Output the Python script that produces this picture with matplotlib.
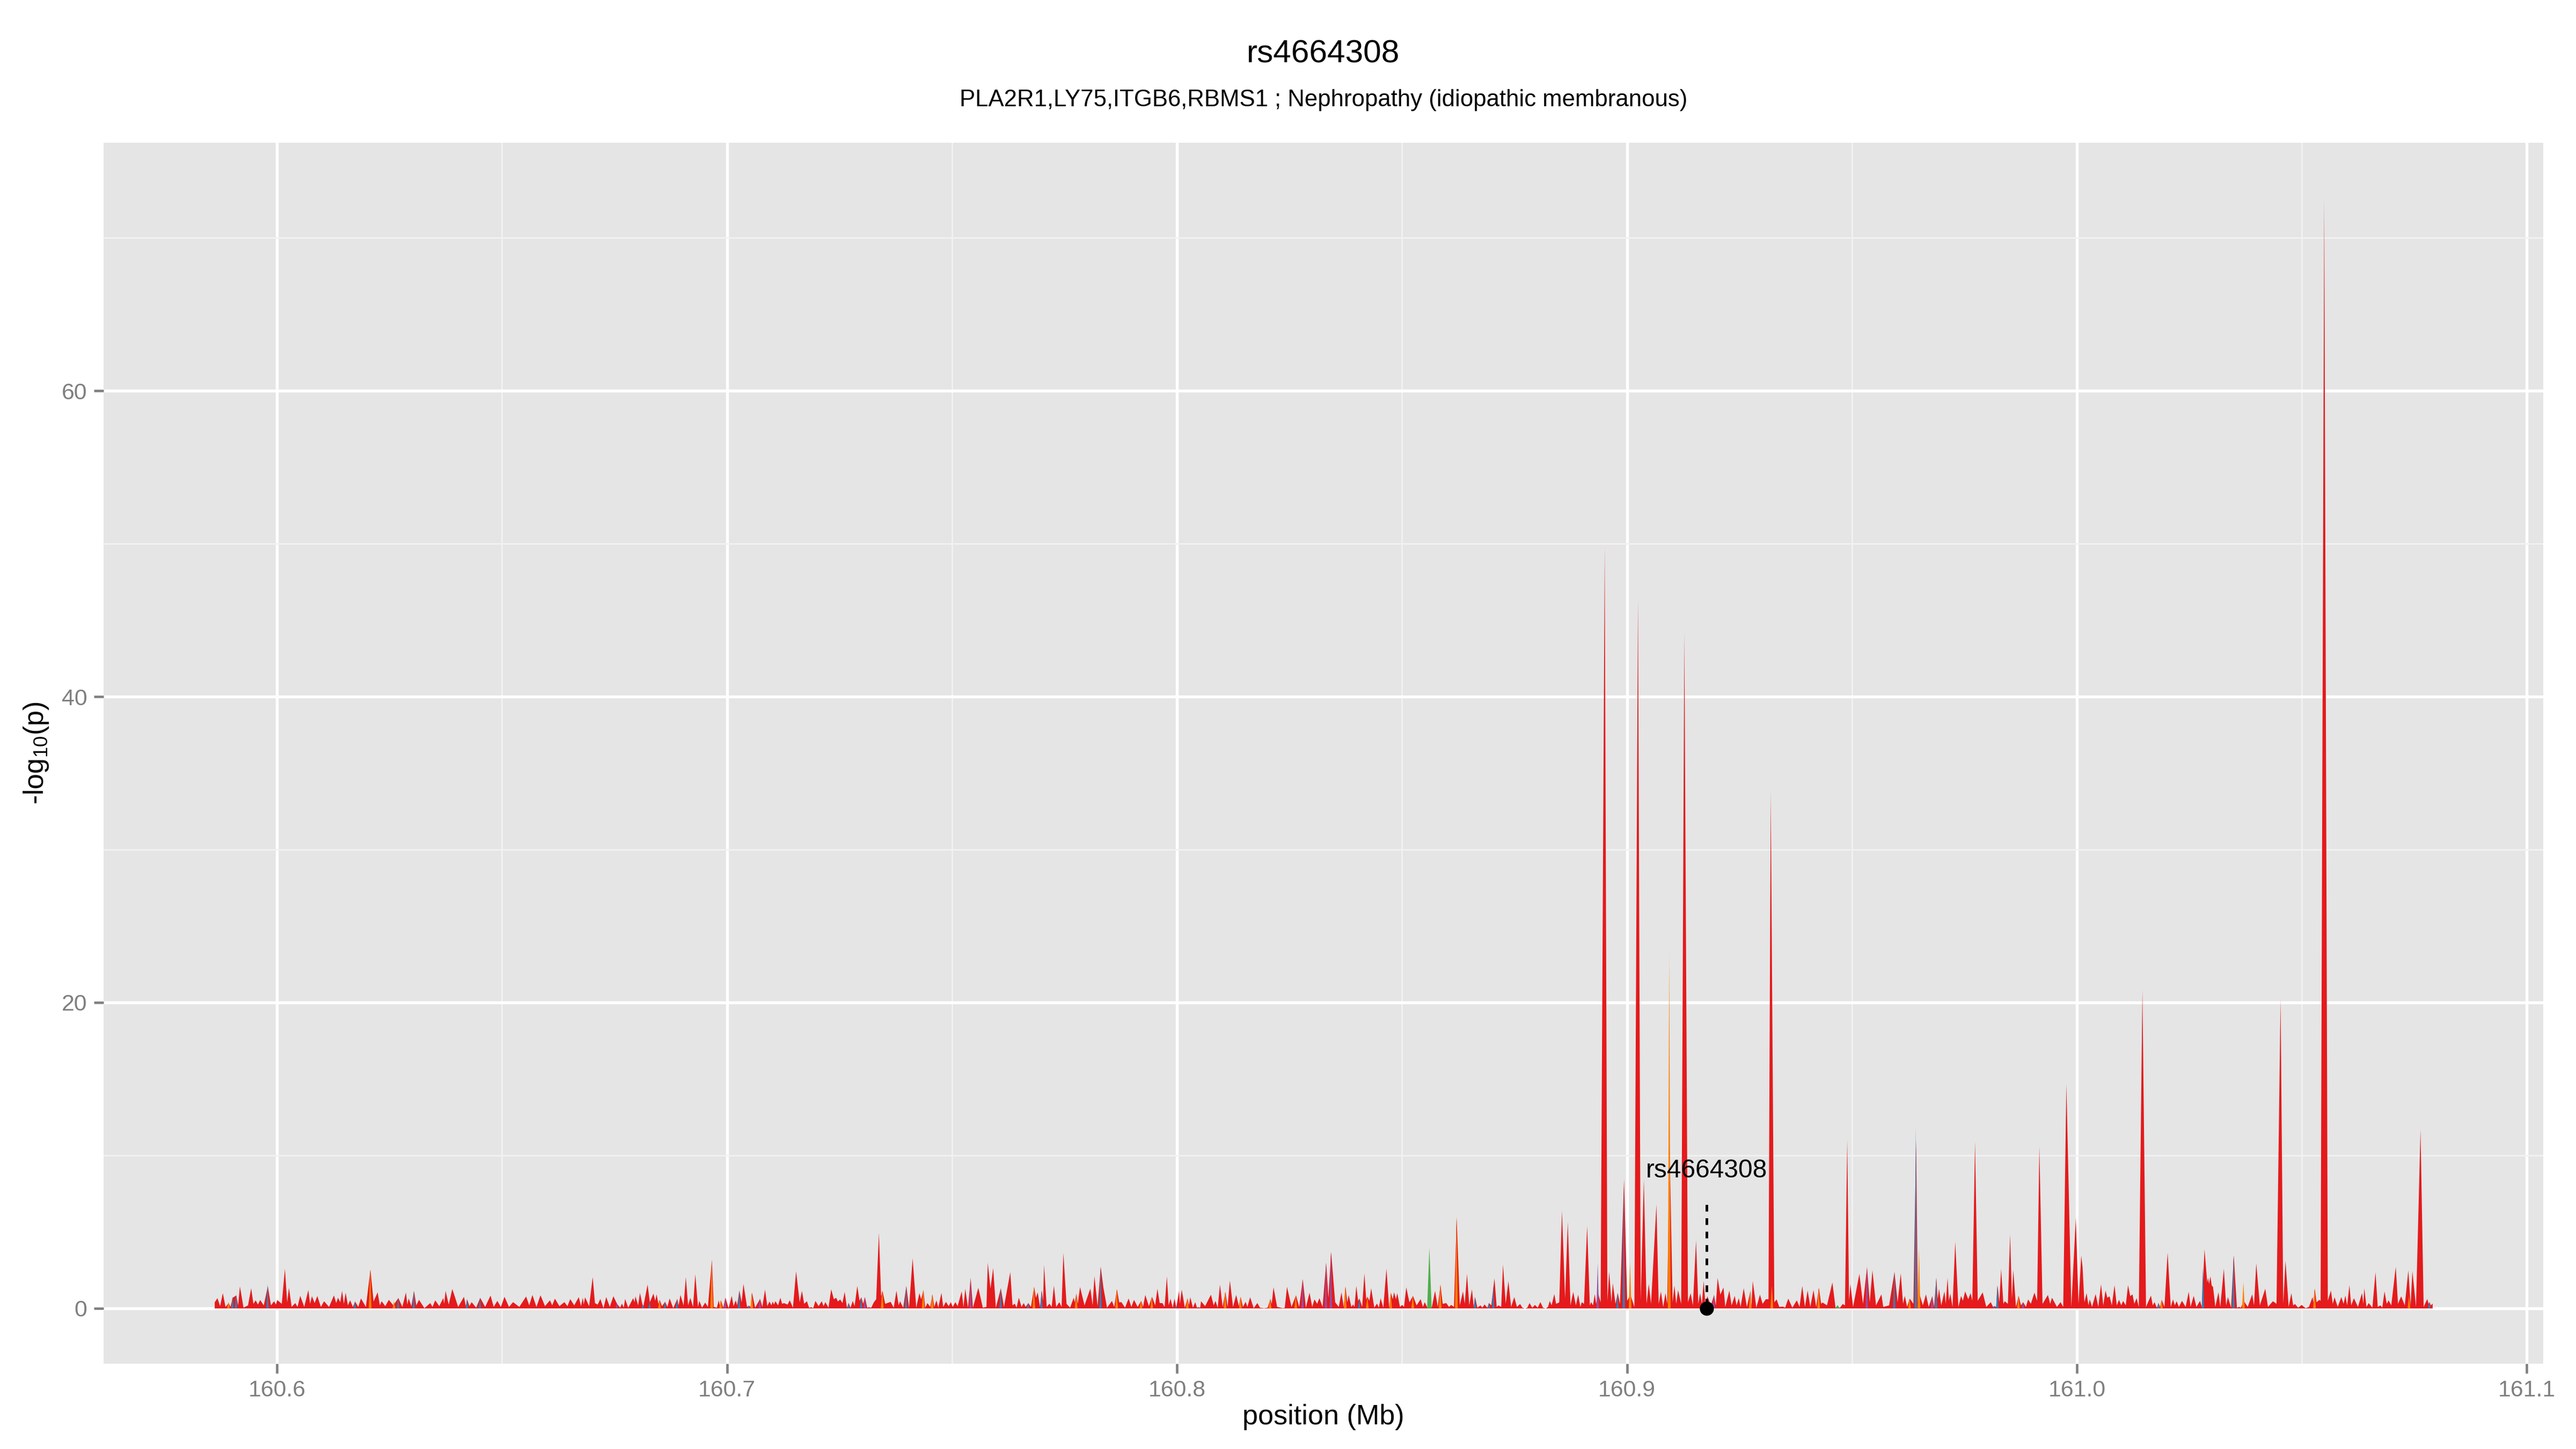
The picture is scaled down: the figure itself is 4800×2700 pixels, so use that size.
import matplotlib
matplotlib.use("Agg")
import matplotlib.pyplot as plt

plt.rcParams['font.family'] = ['Liberation Sans', 'DejaVu Sans']
plt.rcParams['mathtext.fontset'] = 'custom'
plt.rcParams['mathtext.rm'] = 'Liberation Sans'
plt.rcParams['mathtext.default'] = 'regular'

# ---------------- data ----------------
title = "rs4664308"
subtitle = "PLA2R1,LY75,ITGB6,RBMS1 ; Nephropathy (idiopathic membranous)"
lead_snp = "rs4664308"
lead_pos = 160.9177
lead_val = 0.0

# red series (main association trace), position in Mb and -log10(p)
red_pos = [
 160.5861,160.5867,160.5873,160.5879,160.5885,160.5892,160.5896,160.5901,160.5909,160.5913,
 160.5917,160.5925,160.5935,160.5942,160.5947,160.5952,160.5957,160.5962,160.5970,160.5979,
 160.5986,160.5993,160.5997,160.6000,160.6010,160.6017,160.6022,160.6026,160.6032,160.6040,
 160.6045,160.6051,160.6060,160.6069,160.6073,160.6077,160.6083,160.6089,160.6097,160.6104,
 160.6115,160.6126,160.6131,160.6135,160.6140,160.6144,160.6148,160.6152,160.6157,160.6162,
 160.6168,160.6173,160.6180,160.6186,160.6197,160.6207,160.6214,160.6223,160.6228,160.6232,
 160.6240,160.6248,160.6258,160.6269,160.6278,160.6286,160.6289,160.6292,160.6298,160.6304,
 160.6309,160.6315,160.6327,160.6340,160.6345,160.6351,160.6360,160.6369,160.6371,160.6374,
 160.6381,160.6389,160.6402,160.6415,160.6419,160.6422,160.6427,160.6432,160.6442,160.6451,
 160.6462,160.6474,160.6481,160.6489,160.6497,160.6505,160.6515,160.6524,160.6538,160.6553,
 160.6560,160.6567,160.6576,160.6585,160.6595,160.6606,160.6611,160.6617,160.6627,160.6638,
 160.6645,160.6651,160.6660,160.6670,
 160.6675,160.6679,160.6681,160.6684,160.6693,160.6701,160.6706,160.6712,160.6718,160.6725,
 160.6731,160.6739,160.6747,160.6755,160.6762,160.6766,160.6770,160.6773,160.6780,160.6791,
 160.6794,160.6796,160.6802,160.6806,160.6813,160.6823,160.6828,160.6836,160.6840,160.6843,
 160.6847,160.6850,160.6855,160.6862,160.6867,160.6872,160.6880,160.6889,160.6892,160.6896,
 160.6903,160.6908,160.6913,160.6918,160.6924,160.6929,160.6935,160.6938,160.6944,160.6951,
 160.6957,160.6966,160.6970,160.6977,160.6981,160.6984,160.6986,160.6991,160.6996,160.7003,
 160.7010,160.7014,160.7019,160.7022,160.7027,160.7032,160.7036,160.7044,160.7048,160.7052,
 160.7055,160.7062,160.7073,160.7078,160.7084,160.7089,160.7094,160.7098,160.7101,160.7104,
 160.7107,160.7113,160.7118,160.7122,160.7126,160.7134,160.7139,160.7146,160.7153,160.7161,
 160.7166,160.7171,160.7177,160.7182,160.7187,160.7191,160.7196,160.7203,160.7210,160.7214,
 160.7218,160.7225,160.7231,160.7237,160.7242,160.7246,160.7251,160.7256,160.7261,160.7266,
 160.7270,160.7274,160.7279,160.7283,160.7289,160.7294,160.7298,160.7302,160.7306,160.7311,
 160.7315,160.7320,160.7326,160.7331,160.7337,160.7342,160.7345,160.7351,160.7363,160.7370,
 160.7376,160.7381,160.7384,160.7391,160.7398,160.7404,160.7412,160.7420,160.7427,160.7431,
 160.7436,160.7440,160.7445,160.7451,160.7456,160.7460,160.7465,160.7469,160.7476,160.7480,
 160.7486,160.7492,160.7497,160.7501,160.7507,
 160.7512,160.7521,160.7525,160.7529,160.7535,160.7541,160.7546,160.7558,160.7568,160.7573,
 160.7576,160.7579,160.7585,160.7591,160.7597,160.7608,160.7615,160.7629,160.7634,160.7639,
 160.7643,160.7648,160.7654,160.7659,160.7663,160.7669,160.7675,160.7682,160.7686,160.7690,
 160.7695,160.7699,160.7702,160.7704,160.7710,160.7716,160.7721,160.7726,160.7731,160.7738,
 160.7743,160.7747,160.7754,160.7762,160.7770,160.7772,160.7776,160.7779,160.7784,160.7794,
 160.7807,160.7812,160.7816,160.7823,160.7830,160.7836,160.7844,160.7855,160.7860,160.7866,
 160.7871,160.7876,160.7884,160.7892,160.7898,160.7904,160.7912,160.7920,160.7924,160.7929,
 160.7937,160.7944,160.7951,160.7956,160.7961,160.7967,160.7972,160.7977,160.7981,160.7985,
 160.7990,160.7994,160.7998,160.8004,160.8006,160.8010,160.8017,160.8023,160.8026,160.8029,
 160.8035,160.8040,160.8044,160.8047,160.8051,160.8053,160.8062,160.8075,160.8081,160.8085,
 160.8090,160.8095,160.8101,160.8107,160.8112,160.8117,160.8124,160.8131,160.8137,160.8141,
 160.8146,160.8152,160.8156,160.8162,160.8170,160.8178,160.8184,160.8193,160.8201,160.8207,
 160.8210,160.8214,160.8222,160.8235,160.8239,160.8244,160.8254,160.8264,160.8271,160.8279,
 160.8286,160.8294,160.8300,160.8305,160.8311,160.8316,160.8323,160.8331,160.8336,160.8342,
 160.8351,160.8359,160.8365,160.8370,160.8374,160.8378,160.8381,160.8387,160.8391,160.8394,
 160.8398,160.8402,160.8405,160.8411,160.8416,160.8420,160.8423,160.8427,160.8431,160.8438,
 160.8444,160.8448,160.8452,160.8458,160.8465,160.8471,160.8475,160.8479,160.8482,160.8486,
 160.8489,160.8495,160.8500,160.8504,160.8509,160.8516,160.8524,160.8532,160.8541,160.8546,
 160.8550,160.8556,160.8561,160.8566,160.8573,160.8579,160.8585,160.8590,160.8598,160.8604,
 160.8609,160.8615,160.8621,160.8628,160.8635,160.8639,160.8644,160.8649,160.8655,160.8659,
 160.8662,160.8667,160.8674,160.8678,160.8683,160.8689,160.8693,160.8698,160.8705,160.8710,
 160.8714,160.8720,160.8724,160.8730,160.8736,160.8742,160.8749,160.8755,160.8762,160.8767,
 160.8773,160.8778,160.8783,160.8789,160.8795,160.8801,160.8807,160.8813,160.8819,160.8824,
 160.8828,160.8832,160.8838,160.8842,160.8846,160.8849,160.8855,160.8862,160.8868,160.8874,
 160.8880,160.8886,160.8891,160.8896,160.8899,160.8904,160.8911,160.8917,160.8920,160.8924,
 160.8928,160.8931,160.8935,160.8941,160.8950,160.8956,160.8960,160.8965,160.8968,160.8974,
 160.8979,160.8984,160.8993,160.9000,160.9007,160.9016,160.9024,160.9030,160.9037,160.9043,
 160.9048,160.9053,160.9065,160.9070,160.9075,160.9080,160.9085,160.9089,160.9094,160.9101,
 160.9105,160.9109,160.9113,160.9120,160.9127,160.9135,160.9141,160.9146,160.9153,160.9158,
 160.9162,160.9166,160.9170,160.9174,
 160.9178,160.9186,160.9193,160.9197,160.9201,160.9207,160.9214,160.9218,160.9227,160.9232,
 160.9239,160.9243,160.9248,160.9252,160.9259,160.9266,160.9274,160.9276,160.9279,160.9287,
 160.9295,160.9301,160.9308,160.9314,160.9319,160.9327,160.9332,160.9338,160.9346,160.9351,
 160.9358,160.9367,160.9377,160.9383,160.9389,160.9395,160.9401,160.9407,160.9414,160.9420,
 160.9426,160.9431,160.9434,160.9444,160.9456,160.9463,160.9468,160.9473,160.9479,160.9484,
 160.9489,160.9493,160.9496,160.9502,160.9516,160.9524,160.9533,160.9539,160.9545,160.9553,
 160.9565,160.9569,160.9572,160.9582,160.9594,160.9601,160.9608,160.9613,160.9617,160.9622,
 160.9628,160.9636,160.9642,160.9646,160.9649,160.9657,160.9664,160.9670,160.9678,160.9682,
 160.9687,160.9690,160.9693,160.9698,160.9705,160.9708,160.9712,160.9715,160.9718,160.9723,
 160.9729,160.9736,160.9742,160.9746,160.9751,160.9758,160.9763,160.9767,160.9773,160.9779,
 160.9790,160.9798,160.9808,160.9813,160.9816,160.9820,160.9823,160.9827,160.9831,160.9836,
 160.9839,160.9846,160.9851,160.9855,160.9858,160.9864,160.9870,160.9875,160.9880,160.9886,
 160.9891,160.9897,160.9905,160.9911,160.9916,160.9923,160.9935,160.9940,160.9944,160.9955,
 160.9963,160.9969,160.9976,160.9987,160.9997,161.0003,161.0009,
 161.0012,161.0016,161.0021,161.0025,161.0028,161.0033,161.0041,161.0047,161.0053,161.0058,
 161.0063,161.0067,161.0072,161.0077,161.0083,161.0088,161.0093,161.0098,161.0102,161.0108,
 161.0113,161.0118,161.0123,161.0127,161.0132,161.0137,161.0145,161.0153,161.0164,161.0168,
 161.0172,161.0177,161.0181,161.0184,161.0188,161.0194,161.0201,161.0208,161.0213,161.0217,
 161.0221,161.0226,161.0233,161.0241,161.0248,161.0252,161.0259,161.0265,161.0273,161.0277,
 161.0283,161.0289,161.0291,161.0293,161.0296,161.0299,161.0302,161.0307,161.0314,161.0318,
 161.0326,161.0331,161.0335,161.0342,161.0348,161.0355,161.0360,161.0364,161.0370,161.0379,
 161.0389,161.0393,161.0398,161.0406,161.0418,161.0424,161.0435,161.0443,161.0452,161.0458,
 161.0463,161.0470,161.0476,161.0480,161.0484,161.0491,161.0499,161.0504,161.0508,161.0515,
 161.0523,161.0525,161.0528,161.0532,161.0538,161.0541,161.0549,161.0557,161.0564,161.0568,
 161.0572,161.0579,161.0587,161.0592,161.0596,161.0600,161.0605,161.0609,161.0615,161.0624,
 161.0633,161.0636,161.0638,161.0643,161.0648,161.0656,161.0663,161.0668,161.0674,161.0678,
 161.0683,161.0688,161.0692,161.0698,161.0708,161.0713,161.0720,161.0728,161.0736,161.0741,
 161.0745,161.0753,161.0763,161.0770,161.0778,161.0781,161.0783,161.0786,161.0790,
]
red_val = [
 0.40,0.67,0.15,1.00,0.10,0.35,0.10,0.70,0.85,0.20,
 1.44,0.05,0.20,1.32,0.30,0.53,0.25,0.55,0.20,1.45,
 0.20,0.47,0.25,0.55,0.30,2.60,0.40,1.35,0.10,0.35,
 0.10,0.82,0.10,1.20,0.30,0.80,0.35,0.81,0.10,0.47,
 0.10,0.85,0.35,0.70,0.40,1.15,0.30,1.03,0.20,0.53,
 0.10,0.45,0.10,0.65,0.10,2.54,0.45,1.05,0.20,0.47,
 0.15,0.56,0.20,0.68,0.10,1.05,0.25,0.65,0.15,1.14,
 0.20,0.56,0.02,0.35,0.10,0.53,0.15,0.68,0.30,1.15,
 0.25,1.27,0.10,0.76,0.15,0.59,0.15,0.41,0.05,0.69,
 0.10,0.84,0.10,0.49,0.10,0.76,0.10,0.41,0.10,0.78,
 0.20,0.88,0.10,0.86,0.15,0.53,0.20,0.64,0.15,0.41,
 0.15,0.61,0.20,0.74,
 0.15,0.70,0.25,0.73,0.15,2.05,0.35,0.25,0.62,0.02,
 0.74,0.10,0.80,0.30,0.05,0.32,0.05,0.62,0.05,0.67,
 0.40,0.79,0.20,1.02,0.05,1.56,0.40,0.97,0.50,0.92,
 0.30,0.55,0.15,0.43,0.10,0.65,0.02,0.62,0.20,0.88,
 0.20,2.05,0.20,0.69,0.10,2.23,0.10,0.49,0.05,0.38,
 0.10,3.19,0.10,0.05,0.53,0.10,0.53,0.05,0.70,0.02,
 0.82,0.15,0.53,0.20,1.17,0.40,1.60,0.10,0.18,0.10,
 1.03,0.05,0.62,0.10,1.23,0.15,0.45,0.20,0.44,0.25,
 0.47,0.20,0.70,0.30,0.35,0.25,0.53,0.05,2.43,0.40,
 1.15,0.30,0.47,0.05,0.08,0.02,0.49,0.15,0.47,0.15,
 0.41,0.05,1.25,0.60,0.70,0.45,0.59,0.35,1.08,0.05,
 0.35,0.05,0.49,0.15,1.47,0.50,0.73,0.30,0.74,0.05,
 0.08,0.05,0.41,0.60,4.95,0.80,1.15,0.30,0.43,0.05,
 1.16,0.20,0.47,0.05,1.47,0.05,3.28,0.05,1.00,0.60,
 1.20,0.05,0.35,0.10,0.92,0.10,0.53,0.05,1.02,0.10,
 0.43,0.15,0.41,0.10,0.41,
 0.15,1.11,0.10,1.29,0.05,1.99,0.05,1.35,0.05,0.08,
 0.10,2.99,1.30,2.64,0.05,1.32,0.10,2.37,0.20,0.31,
 0.05,0.70,0.10,0.35,0.10,0.35,0.10,1.41,0.70,1.05,
 0.10,1.17,0.50,2.85,0.10,0.31,0.10,1.49,0.10,0.41,
 0.10,3.63,0.30,0.05,0.70,0.40,0.97,0.30,1.40,0.20,
 1.30,0.20,2.11,0.15,2.72,1.35,0.05,0.49,0.10,1.25,
 0.40,0.41,0.05,0.65,0.10,0.56,0.10,0.49,0.10,0.88,
 0.15,0.76,0.20,1.29,0.35,0.35,0.10,2.09,0.20,0.64,
 0.05,0.64,0.05,1.14,0.30,1.23,0.05,0.67,0.20,0.73,
 0.05,0.41,0.05,0.08,0.05,0.47,0.15,0.90,0.20,0.49,
 0.05,1.56,0.10,1.08,0.10,1.82,0.10,0.88,0.15,0.76,
 0.10,0.43,0.10,0.73,0.02,0.35,0.05,0.02,0.05,0.61,
 0.30,1.38,0.10,0.02,0.05,1.41,0.10,0.86,0.10,1.91,
 0.05,1.03,0.10,0.59,0.30,0.67,0.10,2.99,0.70,3.70,
 0.40,0.10,1.05,0.10,1.43,0.40,0.88,0.10,0.26,0.10,
 1.47,0.50,0.64,0.10,2.29,0.60,0.76,0.50,1.32,0.05,
 0.32,0.05,0.67,0.05,2.60,0.05,1.02,0.60,1.06,0.60,
 1.00,0.10,0.23,0.10,1.38,0.40,0.82,0.20,0.61,0.10,
 0.41,0.05,0.10,0.10,1.15,0.10,1.55,0.30,0.35,0.10,
 0.23,0.10,5.96,0.20,1.11,0.30,2.26,0.20,1.25,0.10,
 0.74,0.05,0.20,0.05,0.26,0.05,0.35,0.20,1.97,0.10,
 0.20,0.10,2.87,0.30,1.79,0.10,0.74,0.10,0.29,0.05,
 0.00,0.05,0.35,0.05,0.23,0.05,0.41,0.05,0.00,0.10,
 0.49,0.20,0.94,0.30,0.35,0.40,6.40,0.65,5.65,0.20,
 1.08,0.20,0.90,0.10,0.41,0.30,5.40,0.20,0.41,0.20,
 0.94,0.30,1.00,0.40,49.8,0.50,2.40,0.40,1.65,0.30,
 1.00,0.30,8.45,0.50,0.90,0.10,46.4,0.50,8.45,0.30,
 1.60,0.30,6.80,0.30,1.10,0.10,1.00,0.30,11.0,0.40,
 1.50,0.30,1.20,0.30,44.2,0.40,1.00,0.20,4.45,0.30,
 1.00,0.30,1.80,0.20,
 0.80,0.20,0.88,0.20,2.00,0.90,1.37,0.10,1.17,0.20,
 0.82,0.20,0.67,0.10,1.32,0.10,1.15,0.10,1.79,0.05,
 0.90,0.30,0.60,0.60,33.8,0.40,0.59,0.10,0.12,0.05,
 0.64,0.05,0.53,0.10,1.47,0.10,1.17,0.10,1.20,0.10,
 1.35,0.30,0.39,0.20,1.70,0.05,0.05,0.05,0.29,0.20,
 11.05,0.50,1.58,0.10,2.26,0.30,2.70,0.40,2.49,0.20,
 0.92,0.10,0.12,0.20,2.38,0.40,2.30,0.30,0.82,0.10,
 0.64,0.30,11.0,0.40,1.00,0.20,0.92,0.10,0.80,0.10,
 2.00,0.60,1.29,0.20,1.11,0.30,2.00,0.50,0.97,0.10,
 4.36,0.10,0.82,0.50,1.11,0.60,1.00,0.50,10.9,0.50,
 1.05,0.10,0.41,0.10,0.15,0.10,1.50,0.40,2.58,0.30,
 0.47,0.30,4.84,0.60,2.52,0.10,0.82,0.20,0.41,0.10,
 0.59,0.30,1.03,0.50,10.6,0.30,0.88,0.30,0.70,0.10,
 0.41,0.10,14.7,0.10,5.94,0.30,3.46,
 2.70,0.40,1.00,0.20,0.59,0.10,0.94,0.10,1.58,0.20,
 1.17,0.70,0.79,0.20,1.52,0.20,0.56,0.20,0.49,0.20,
 1.52,0.80,0.92,0.30,0.67,0.10,20.84,0.10,0.84,0.20,
 0.41,0.05,0.35,0.10,0.55,0.10,3.66,0.10,0.59,0.20,
 0.47,0.10,0.50,0.10,1.09,0.10,0.82,0.10,0.49,0.10,
 3.87,1.70,2.00,1.60,2.10,1.50,1.40,0.10,1.06,0.10,
 2.60,0.20,0.74,0.05,3.48,0.05,0.10,0.05,0.50,0.10,
 0.92,0.20,2.95,0.20,1.29,0.10,0.47,0.30,20.25,0.30,
 3.13,0.10,1.00,0.20,0.29,0.05,0.23,0.10,0.02,0.10,
 0.74,0.40,1.29,0.40,0.56,0.50,72.6,0.50,1.17,0.30,
 0.73,0.10,0.74,0.30,0.84,0.20,1.52,0.20,0.67,0.10,
 1.00,0.30,1.32,0.10,0.35,0.05,2.37,0.10,0.20,0.05,
 1.11,0.30,0.53,0.20,2.72,0.30,0.79,0.20,2.49,0.20,
 2.44,0.10,11.7,0.10,0.62,0.30,0.41,0.20,0.32,
]

orange_pos = [160.5892, 160.6207, 160.6260, 160.6850, 160.6966, 160.6986, 160.7055, 160.7345,
              160.7436, 160.7456, 160.7682, 160.7776, 160.7866, 160.7920, 160.7944, 160.8023,
              160.8107, 160.8141, 160.8207, 160.8264, 160.8374, 160.8423, 160.8475, 160.8524,
              160.8585, 160.8621, 160.9007, 160.9094, 160.9274, 160.9322, 160.9426, 160.9628,
              160.9649, 160.9870, 161.0188, 161.0370, 161.0528, 161.0738]
orange_val = [0.40, 2.54, 0.45, 0.55, 3.10, 0.53, 1.03, 1.15,
              1.20, 0.92, 1.41, 0.97, 1.25, 0.49, 0.76, 0.67,
              1.08, 0.76, 0.61, 0.86, 1.43, 0.76, 1.02, 0.82,
              1.55, 5.96, 3.00, 23.2, 1.15, 1.50, 1.35, 0.64,
              3.93, 0.82, 0.55, 1.70, 1.29, 0.80]

blue_pos = [160.5901, 160.5909, 160.5979, 160.6173, 160.6269, 160.6304, 160.6422, 160.6451,
            160.6813, 160.6828, 160.6862, 160.6889, 160.7027, 160.7048, 160.7270, 160.7298,
            160.7398, 160.7608, 160.7669, 160.7699, 160.7830, 160.7998, 160.8405, 160.8662,
            160.8693, 160.8703, 160.8979, 160.8993, 160.9594, 160.9642, 160.9687, 160.9816,
            160.9823, 161.0181, 161.0280, 161.0348, 161.0783]
blue_val = [0.75, 0.90, 1.58, 0.45, 0.68, 1.14, 0.59, 0.69,
            0.25, 0.45, 0.43, 0.62, 1.17, 0.18, 0.35, 0.73,
            1.47, 1.32, 0.35, 1.17, 2.72, 0.15, 0.64, 0.74,
            0.35, 1.40, 1.00, 8.00, 2.38, 11.86, 2.00, 0.15,
            1.50, 0.35, 2.70, 3.48, 0.41]

purple_pos = [160.6755, 160.6996, 160.7073, 160.7306, 160.7541, 160.8047, 160.8279, 160.8331,
              160.8342, 160.8935, 160.9193, 160.9533, 160.9678, 160.9880]
purple_val = [0.35, 0.70, 0.62, 0.74, 1.99, 0.08, 1.91, 2.99,
              3.70, 2.97, 0.88, 2.70, 0.80, 0.41]

green_pos = [160.8561, 160.9468]
green_val = [3.95, 0.20]

x_ticks = [160.6, 160.7, 160.8, 160.9, 161.0, 161.1]
x_ticklabels = ["160.6", "160.7", "160.8", "160.9", "161.0", "161.1"]
y_ticks = [0, 20, 40, 60]
y_ticklabels = ["0", "20", "40", "60"]

# ---------------- style ----------------
RED = "#E41A1C"
ORANGE = "#FF7F00"
BLUE = "#377EB8"
PURPLE = "#984EA3"
GREEN = "#4DAF4A"
PANEL = "#E5E5E5"
MINOR = "#F2F2F2"
TICKCOL = "#7F7F7F"

fig = plt.figure(figsize=(16, 9), dpi=300)
ax = fig.add_axes([0.0402, 0.0589, 0.9471, 0.8426])
ax.set_facecolor(PANEL)
for s in ax.spines.values():
    s.set_visible(False)

xmin, xmax = min(red_pos), max(red_pos)
ymax = max(red_val)
xpad = (xmax - xmin) * 0.05
ypad = ymax * 0.05
ax.set_xlim(xmin - xpad, xmax + xpad)
ax.set_ylim(-ypad, ymax + ypad)

# grid
ax.set_xticks(x_ticks)
ax.set_xticklabels(x_ticklabels)
ax.set_yticks(y_ticks)
ax.set_yticklabels(y_ticklabels)
ax.set_xticks([160.65, 160.75, 160.85, 160.95, 161.05], minor=True)
ax.set_yticks([10, 30, 50, 70], minor=True)
ax.grid(which='major', color='white', linewidth=1.3, zorder=0)
ax.grid(which='minor', color=MINOR, linewidth=0.65, zorder=0)
ax.set_axisbelow(True)
ax.tick_params(which='major', length=4.3, width=1.1, color=TICKCOL, labelcolor=TICKCOL,
               labelsize=10.3, pad=3)
ax.tick_params(which='minor', length=0)

# main trace
ax.fill_between(red_pos, 0, red_val, color=RED, linewidth=0, zorder=2)

# other categories, drawn as narrow spikes
spike_series = [(orange_pos, orange_val, ORANGE, 0.00030),
                (blue_pos, blue_val, BLUE, 0.00026),
                (purple_pos, purple_val, PURPLE, 0.00026),
                (green_pos, green_val, GREEN, 0.00050)]
for pos, val, col, hw in spike_series:
    for p, v in zip(pos, val):
        ax.fill([p - hw, p, p + hw], [0, v, 0], color=col, linewidth=0, zorder=3)

# lead SNP annotation
ax.plot([lead_pos, lead_pos], [0.2, 7.2], color='black', linestyle=(0, (2.5, 2.5)),
        linewidth=1.2, zorder=5)
ax.plot([lead_pos], [lead_val], 'o', color='black', markersize=5.3, zorder=6)
ax.text(lead_pos, 9.0, lead_snp, ha='center', va='center', fontsize=11.5, color='black', zorder=6)

# labels
ax.set_xlabel("position (Mb)", fontsize=12.5, labelpad=1)
fig.text(0.014, 0.5 * (0.0589 + 0.9015), "-log$_{10}$(p)", rotation=90, ha='center',
         va='center', fontsize=12.5)
cx = 0.0402 + 0.9471 / 2
fig.text(cx, 0.9626, title, ha='center', va='center', fontsize=14.5)
fig.text(cx, 0.9309, subtitle, ha='center', va='center', fontsize=10.5)

fig.savefig("out.png", dpi=300, facecolor='white')
